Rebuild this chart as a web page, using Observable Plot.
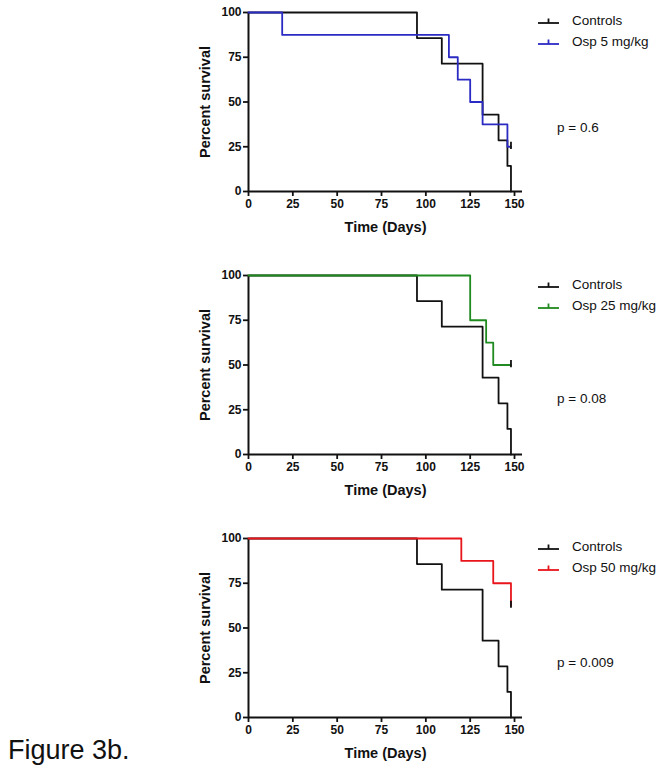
<!DOCTYPE html>
<html>
<head>
<meta charset="utf-8">
<script src="https://cdn.jsdelivr.net/npm/d3@7"></script>
<script src="https://cdn.jsdelivr.net/npm/@observablehq/plot@0.6"></script>
<style>
  body { margin: 0; background: #fff; font-family: "Liberation Sans", Arial, sans-serif; }
  #fig { position: relative; width: 671px; height: 778px; overflow: hidden; }
  .panel { position: absolute; left: 0; width: 671px; height: 260px; }
  .panel svg.plot { position: absolute; left: 0; top: 0; }
  .legend { position: absolute; left: 537px; font-size: 13.5px; color: #111; }
  .legend .row { position: absolute; left: 0; white-space: nowrap; height: 16px; line-height: 16px; }
  .legend svg { position: absolute; left: 0; top: 2px; }
  .legend span { position: absolute; left: 35px; top: 0; }
  .pval { position: absolute; left: 557px; font-size: 13.5px; color: #111; white-space: nowrap; }
  #caption { position: absolute; left: 8px; top: 735px; font-size: 27px; color: #111; }
</style>
</head>
<body>
<div id="fig"></div>
<script>
// ---- Data ----
const xTicks = [0, 25, 50, 75, 100, 125, 150];
const yTicks = [0, 25, 50, 75, 100];
const xLabel = "Time (Days)";
const yLabel = "Percent survival";

const controlDays = [0, 95, 109, 132, 141, 146, 148];
const controlSurv = [100, 85.7, 71.4, 42.9, 28.6, 14.3, 0];

const osp5Days = [0, 19, 113, 118, 125, 132, 146, 148];
const osp5Surv = [100, 87.5, 75, 62.5, 50, 37.5, 25, 25];
const osp5CensorDays = [148];
const osp5CensorSurv = [25];

const osp25Days = [0, 125, 134, 138, 148];
const osp25Surv = [100, 75, 62.5, 50, 50];
const osp25CensorDays = [148];
const osp25CensorSurv = [50];

const osp50Days = [0, 120, 138, 148];
const osp50Surv = [100, 87.5, 75, 62.5];
const osp50CensorDays = [148];
const osp50CensorSurv = [62.5];

const groupNames = ["Osp 5 mg/kg", "Osp 25 mg/kg", "Osp 50 mg/kg"];
const groupColors = ["#2b2bc4", "#1f8a1f", "#e8151b"];
const pValues = ["p = 0.6", "p = 0.08", "p = 0.009"];

// ---- Layout ----
const panelTops = [0, 263, 526];
const legendTops = [13, 14, 13];
const pTops = [120, 128, 129];

const panels = [
  {days: osp5Days, surv: osp5Surv, cd: osp5CensorDays, cs: osp5CensorSurv},
  {days: osp25Days, surv: osp25Surv, cd: osp25CensorDays, cs: osp25CensorSurv},
  {days: osp50Days, surv: osp50Surv, cd: osp50CensorDays, cs: osp50CensorSurv}
];

const fig = document.getElementById("fig");
const FONT = "'Liberation Sans', Arial, sans-serif";

function swatch(color) {
  const ns = "http://www.w3.org/2000/svg";
  const s = document.createElementNS(ns, "svg");
  s.setAttribute("width", 26); s.setAttribute("height", 12);
  s.innerHTML = `<line x1="1" x2="22" y1="8" y2="8" stroke="${color}" stroke-width="1.8"/>` +
                `<line x1="11.5" x2="11.5" y1="3.5" y2="8" stroke="${color}" stroke-width="1.8"/>`;
  return s;
}

panels.forEach((p, i) => {
  const color = groupColors[i];
  const name = groupNames[i];
  const ctrl = controlDays.map((t, j) => ({t, s: controlSurv[j]}));
  const trt = p.days.map((t, j) => ({t, s: p.surv[j]}));
  const cens = p.cd.map((t, j) => ({t, s: p.cs[j]}));

  const chart = Plot.plot({
    width: 671,
    height: 245,
    marginLeft: 248,
    marginRight: 149,
    marginTop: 12,
    marginBottom: 54,
    x: {domain: [0, 154.5]},
    y: {domain: [0, 100]},
    style: {fontFamily: FONT, fontSize: "12px", fontWeight: "bold", color: "#111", background: "transparent", overflow: "visible"},
    marks: [
      Plot.axisX({ticks: xTicks, tickSize: 5, tickPadding: 3, strokeWidth: 1.8, label: null}),
      Plot.axisY({ticks: yTicks, tickSize: 5, tickPadding: 2, strokeWidth: 1.8, label: null}),
      Plot.text([xLabel], {frameAnchor: "bottom", lineAnchor: "middle", textAnchor: "middle", dy: 36, text: d => d, fontSize: 14.5, fontWeight: "bold", fill: "#111"}),
      Plot.text([yLabel], {frameAnchor: "left", lineAnchor: "middle", textAnchor: "middle", dx: -43, rotate: -90, text: d => d, fontSize: 14.5, fontWeight: "bold", fill: "#111"}),
      Plot.ruleY([0], {stroke: "#111", strokeWidth: 2}),
      Plot.ruleX([0], {stroke: "#111", strokeWidth: 2}),
      Plot.line(ctrl, {x: "t", y: "s", curve: "step-after", stroke: "#111", strokeWidth: 1.8}),
      Plot.line(trt, {x: "t", y: "s", curve: "step-after", stroke: color, strokeWidth: 1.8}),
      Plot.ruleX(cens, {x: "t", y1: d => d.s - 1.5, y2: d => d.s + 2.5, stroke: "#111", strokeWidth: 1.8})
    ]
  });

  const div = document.createElement("div");
  div.className = "panel";
  div.style.top = panelTops[i] + "px";
  div.appendChild(chart);

  const leg = document.createElement("div");
  leg.className = "legend";
  leg.style.top = legendTops[i] + "px";
  [["Controls", "#111"], [name, color]].forEach(([label, c], k) => {
    const row = document.createElement("div");
    row.className = "row";
    row.style.top = (k * 21) + "px";
    row.appendChild(swatch(c));
    const sp = document.createElement("span");
    sp.textContent = label;
    row.appendChild(sp);
    leg.appendChild(row);
  });
  div.appendChild(leg);

  const pv = document.createElement("div");
  pv.className = "pval";
  pv.style.top = pTops[i] + "px";
  pv.textContent = pValues[i];
  div.appendChild(pv);

  fig.appendChild(div);
});

const cap = document.createElement("div");
cap.id = "caption";
cap.textContent = "Figure 3b.";
fig.appendChild(cap);
</script>
</body>
</html>
